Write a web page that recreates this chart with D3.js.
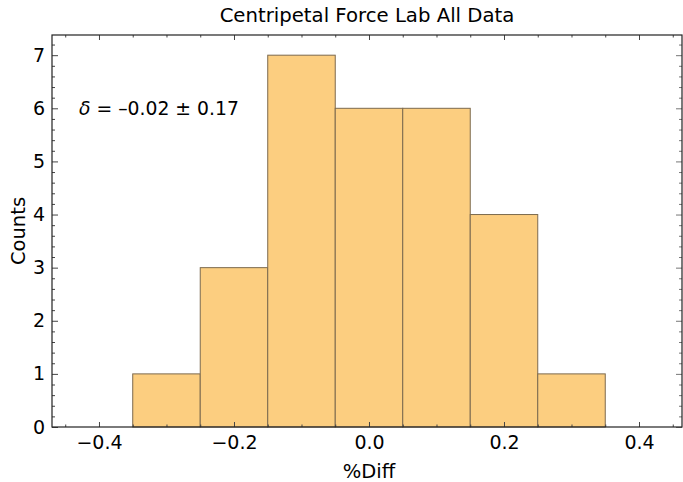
<!DOCTYPE html>
<html><head><meta charset="utf-8">
<script src="https://cdn.jsdelivr.net/npm/d3@7"></script>
<style>body{margin:0;background:#fff}svg{display:block}text{font-family:"DejaVu Sans",sans-serif}</style>
</head><body>
<script>
const binStarts = [-0.35,-0.25,-0.15,-0.05,0.05,0.15,0.25];
const binWidth = 0.1;
const counts = [1,3,7,6,6,4,1];
const xTickValues = [-0.4,-0.2,0.0,0.2,0.4];
const yTickValues = [0,1,2,3,4,5,6,7];
const titleText = "Centripetal Force Lab All Data";
const xLabel = "%Diff";
const yLabel = "Counts";
const annotation = "\u2013 0.02 \u00b1 0.17";

const W=683,H=482;
const m={left:52,right:1,top:35,bottom:55};
const svg=d3.select("body").append("svg").attr("width",W).attr("height",H);
const x=d3.scaleLinear().domain([-0.4696,0.4637]).range([m.left,W-m.right]);
const y=d3.scaleLinear().domain([0,7.38]).range([H-m.bottom,m.top]);

// bars
svg.append("g").selectAll("rect").data(binStarts).join("rect")
  .attr("x",d=>x(d)).attr("width",d=>x(d+binWidth)-x(d))
  .attr("y",(d,i)=>y(counts[i])).attr("height",(d,i)=>y(0)-y(counts[i]))
  .attr("fill","#fcce80").attr("stroke","#7c6a4e").attr("stroke-width",1);

const x0=m.left,x1=W-m.right,y0=H-m.bottom,y1=m.top;
const fmt=d=>d3.format(".1f")(d).replace("-","\u2212");
const xMinor=d3.range(-0.45,0.46,0.05).map(v=>+v.toFixed(2));
const yMinor=d3.range(0,7.4,0.2).map(v=>+v.toFixed(1));
const xMinorOnly=xMinor.filter(v=>!xTickValues.some(t=>Math.abs(t-v)<1e-6));

// bottom axis
const gb=svg.append("g").attr("transform",`translate(0,${y0})`);
gb.call(d3.axisBottom(x).tickValues(xTickValues).tickSize(-5).tickFormat(fmt).tickPadding(9))
  .call(g=>g.select(".domain").remove());
gb.selectAll(".tick line").attr("stroke","#444");
gb.selectAll(".tick text").attr("font-size",19).attr("fill","#000").attr("font-family","DejaVu Sans");
const gbm=svg.append("g").attr("transform",`translate(0,${y0})`);
gbm.call(d3.axisBottom(x).tickValues(xMinorOnly).tickSize(-2.5).tickFormat(""))
  .call(g=>g.select(".domain").remove());
gbm.selectAll(".tick line").attr("stroke","#444");

// top axis
const gt=svg.append("g").attr("transform",`translate(0,${y1})`);
gt.call(d3.axisTop(x).tickValues(xTickValues).tickSize(-5).tickFormat("")).call(g=>g.select(".domain").remove());
gt.append("g").call(d3.axisTop(x).tickValues(xMinorOnly).tickSize(-2.5).tickFormat("")).call(g=>g.select(".domain").remove());
gt.selectAll(".tick line").attr("stroke","#444");

// left axis
const gl=svg.append("g").attr("transform",`translate(${x0},0)`);
gl.call(d3.axisLeft(y).tickValues(yTickValues).tickSize(-6).tickFormat(d3.format("d")).tickPadding(7))
  .call(g=>g.select(".domain").remove());
gl.selectAll(".tick line").attr("stroke","#444");
gl.selectAll(".tick text").attr("font-size",19).attr("fill","#000").attr("font-family","DejaVu Sans");
gl.append("g").call(d3.axisLeft(y).tickValues(yMinor.filter(v=>v%1!==0)).tickSize(-3).tickFormat("")).call(g=>g.select(".domain").remove());
gl.selectAll(".tick line").attr("stroke","#444");

// right axis
const gr=svg.append("g").attr("transform",`translate(${x1},0)`);
gr.call(d3.axisRight(y).tickValues(yTickValues).tickSize(-6).tickFormat("")).call(g=>g.select(".domain").remove());
gr.append("g").call(d3.axisRight(y).tickValues(yMinor.filter(v=>v%1!==0)).tickSize(-3).tickFormat("")).call(g=>g.select(".domain").remove());
gr.selectAll(".tick line").attr("stroke","#777");

// frame
svg.append("rect").attr("x",x0).attr("y",y1).attr("width",x1-x0).attr("height",y0-y1)
  .attr("fill","none").attr("stroke","#222").attr("stroke-width",1.2);

// title & labels
svg.append("text").attr("x",(x0+x1)/2).attr("y",22).attr("text-anchor","middle")
  .attr("font-size",19.7).text(titleText);
svg.append("text").attr("x",x(0)).attr("y",478).attr("text-anchor","middle")
  .attr("font-size",19.5).text(xLabel);
svg.append("text").attr("transform",`translate(25,231) rotate(-90)`).attr("text-anchor","middle")
  .attr("font-size",19.5).text(yLabel);

// annotation
const ann=svg.append("text").attr("x",79).attr("y",115).attr("font-size",18.8);
ann.append("tspan").attr("font-style","italic").text("\u03b4");
ann.append("tspan").text(" = " + annotation.replace("\u2013 ","\u2013"));
</script>
</body></html>
